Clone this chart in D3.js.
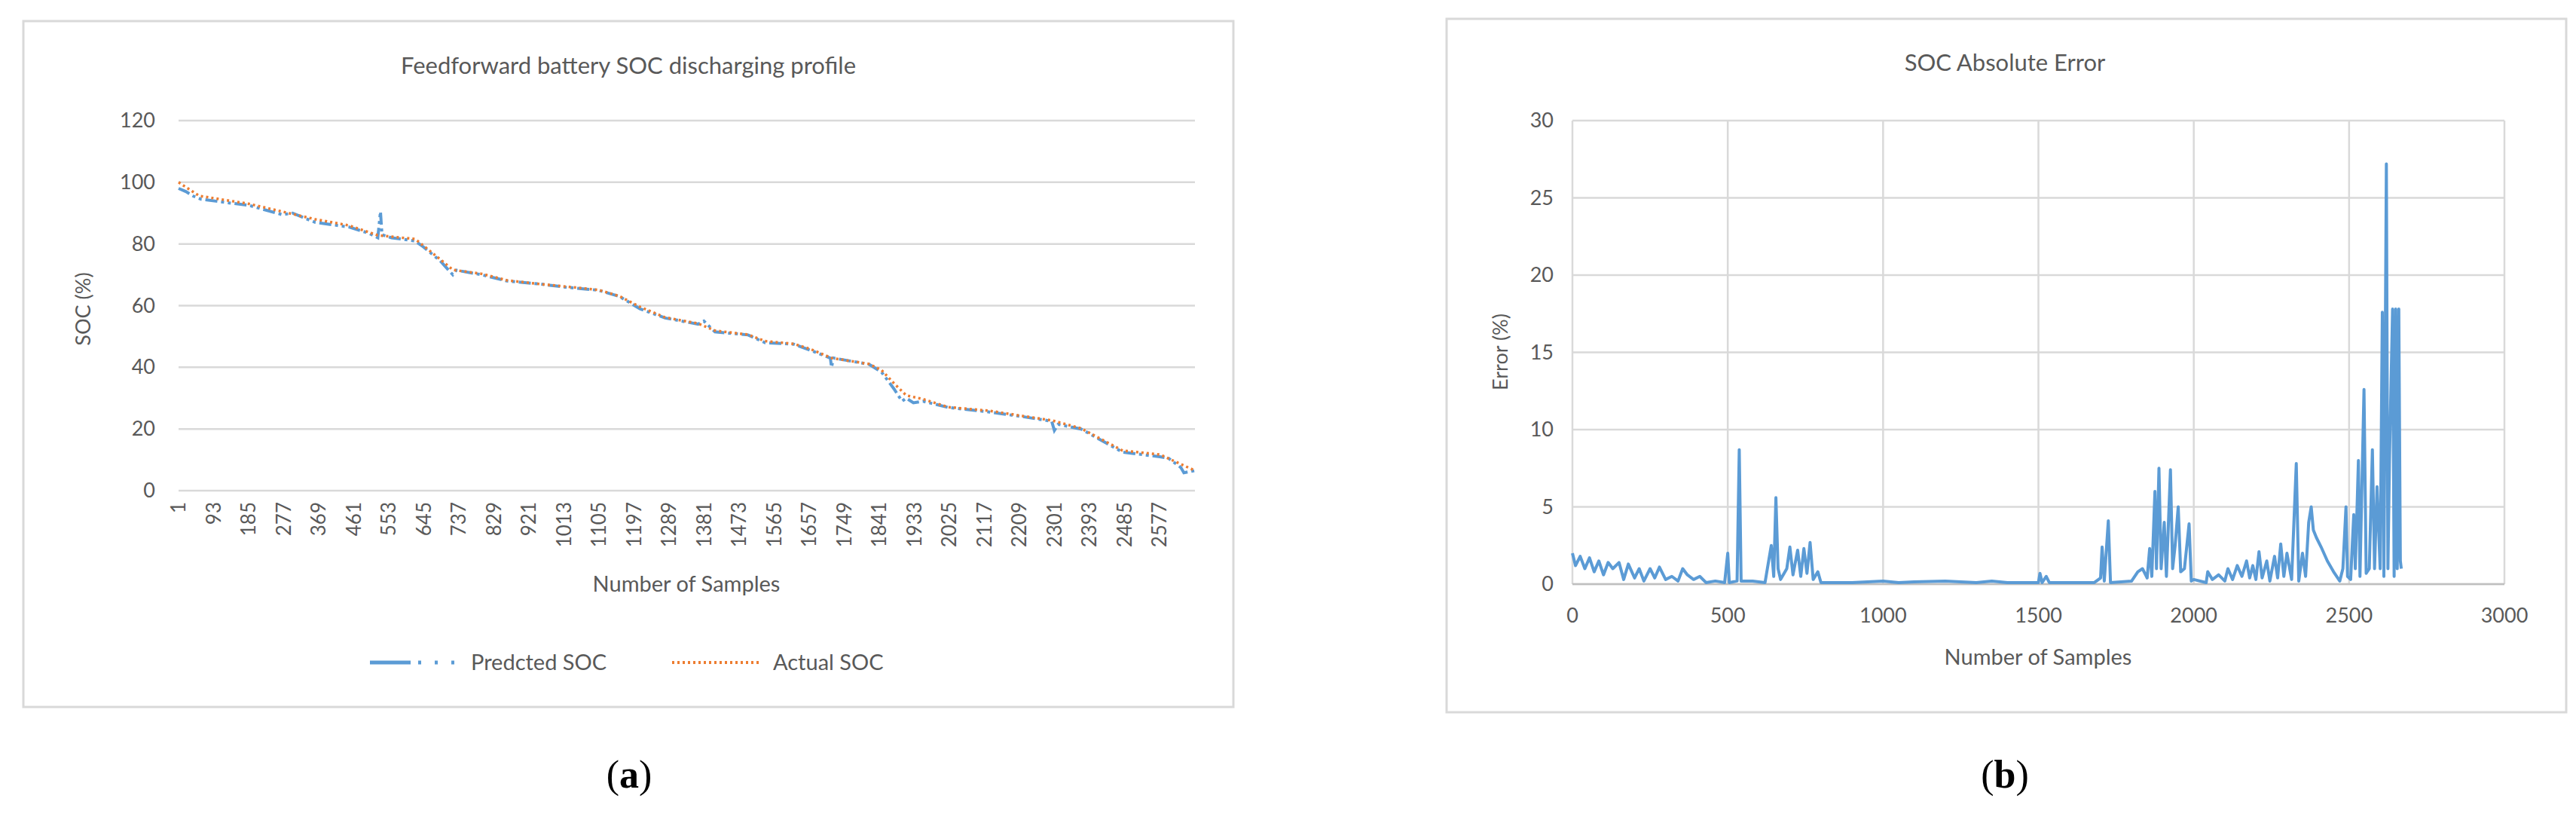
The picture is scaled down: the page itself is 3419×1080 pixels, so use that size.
<!DOCTYPE html>
<html><head><meta charset="utf-8">
<script src="https://cdn.jsdelivr.net/npm/d3@7/dist/d3.min.js"></script>
<style>body{margin:0;background:#fff}text{font-family:Lato,"Open Sans",sans-serif;fill:#595959}</style>
</head><body>
<svg id="c" width="3419" height="1080"></svg>
<script>
const socTicks=[1,93,185,277,369,461,553,645,737,829,921,1013,1105,1197,1289,1381,1473,1565,1657,1749,1841,1933,2025,2117,2209,2301,2393,2485,2577];
const socYTicks=[0,20,40,60,80,100,120];
const actualSamples=[1,55,186,273,360,448,524,622,644,688,721,797,863,950,1016,1103,1158,1212,1278,1365,1409,1496,1540,1616,1660,1715,1813,1846,1879,1911,1955,2021,2130,2217,2293,2370,2435,2479,2577,2632,2669];
const actualSOC=[100,95.6,93,90.5,88,86,82.8,81.6,79.4,75,71.6,70.3,68.2,67,66.2,65.1,63.1,59.6,56.2,54.2,51.9,50.6,48.5,47.6,45.9,43,41.1,39.1,34.8,30.9,29.7,27.1,25.9,24.2,22.8,20.2,15.9,13,11.7,8.6,6.5];
const predSamples=[1,20,40,60,186,273,300,360,448,500,524,531,535,560,622,644,688,721,730,797,863,950,1016,1103,1158,1212,1278,1365,1380,1409,1496,1540,1616,1660,1712,1715,1720,1813,1846,1879,1900,1911,1930,1955,2021,2130,2217,2293,2300,2310,2370,2435,2479,2577,2600,2632,2640,2669];
const predSOC=[98,97,95.5,94.5,92.5,89.5,90,87,85.5,83.5,82,90.5,83,82,81,79,74.5,70,71.5,70,68,67,66,65,63,59,56,54,55,51.5,50.5,48,47.5,45.5,43,40,43,41,38.5,33,29,30,28.5,29,27,25.5,24,22.5,19.5,21.5,20,15.5,12.5,11,10.5,7.5,5.8,6.5];
const errTicksX=[0,500,1000,1500,2000,2500,3000];
const errTicksY=[0,5,10,15,20,25,30];
const errSamples=[0,10,25,40,55,70,85,100,115,130,150,165,180,200,215,230,250,265,280,300,320,340,355,370,390,410,430,460,490,500,505,530,537,543,580,620,640,648,655,662,670,690,700,710,725,735,745,755,765,775,790,800,900,1000,1050,1100,1200,1300,1350,1400,1500,1505,1512,1525,1535,1680,1700,1705,1712,1725,1732,1800,1820,1835,1850,1858,1865,1875,1880,1888,1895,1905,1912,1925,1932,1940,1950,1958,1970,1985,1992,2000,2040,2045,2060,2080,2100,2110,2125,2140,2155,2170,2180,2190,2200,2210,2220,2235,2245,2260,2270,2280,2290,2300,2315,2330,2338,2350,2360,2370,2378,2385,2395,2410,2430,2450,2470,2480,2490,2495,2505,2515,2520,2530,2535,2548,2555,2565,2575,2582,2590,2600,2607,2612,2620,2625,2630,2640,2645,2650,2655,2660,2665,2668];
const errValues=[2,1.2,1.8,1,1.7,0.8,1.5,0.6,1.4,1,1.4,0.3,1.3,0.4,1,0.2,1,0.4,1.1,0.3,0.5,0.2,1,0.6,0.3,0.5,0.1,0.2,0.1,2,0.1,0.2,8.7,0.2,0.2,0.1,2.5,0.5,5.6,1,0.3,1,2.4,0.6,2.2,0.5,2.3,0.7,2.7,0.3,0.8,0.1,0.1,0.2,0.1,0.15,0.2,0.1,0.2,0.1,0.1,0.7,0.1,0.5,0.1,0.1,0.4,2.4,0.2,4.1,0.1,0.2,0.8,1,0.4,2.3,0.5,6,1,7.5,1,4,0.5,7.4,1,2.5,5,0.8,1,3.9,0.2,0.3,0.1,0.8,0.3,0.6,0.2,1,0.3,1.2,0.5,1.5,0.4,1.2,0.3,2.1,0.4,1.5,0.2,1.8,0.4,2.6,0.5,2,0.3,7.8,0.2,2,0.5,4,5,3.5,3,2.4,1.5,0.8,0.2,1,5,0.5,0.3,4.5,1,8,0.5,12.6,0.7,1,8.7,1,6.3,1,17.6,0.5,27.2,1,8,17.8,0.5,17.8,1,17.8,1.5,1];

const svg=d3.select("#c");
const blue="#5b9bd5", orange="#ed7d31", grid="#d9d9d9";
// ---- Panel (a)
svg.append("rect").attr("x",31).attr("y",28).attr("width",1606).attr("height",910).attr("fill","none").attr("stroke","#d9d9d9").attr("stroke-width",3);
const xa=d3.scaleLinear().domain([1,2669]).range([237,1586]);
const ya=d3.scaleLinear().domain([0,120]).range([651,160]);
const ga=svg.append("g");
socYTicks.forEach(t=>{
  ga.append("line").attr("x1",237).attr("x2",1586).attr("y1",ya(t)).attr("y2",ya(t)).attr("stroke",grid).attr("stroke-width",2.5);
  ga.append("text").attr("x",206).attr("y",ya(t)+9).attr("text-anchor","end").attr("font-size",27).text(t);
});
socTicks.forEach(t=>{
  ga.append("text").attr("transform",`translate(${xa(t)+9},666) rotate(-90)`).attr("text-anchor","end").attr("font-size",26).text(t);
});
const la=d3.line().x((d,i)=>xa(d[0])).y(d=>ya(d[1]));
ga.append("path").attr("d",la(predSamples.map((s,i)=>[s,predSOC[i]]))).attr("fill","none").attr("stroke",blue).attr("stroke-width",4).attr("stroke-dasharray","16,5,4,5,4,5");
ga.append("path").attr("d",la(actualSamples.map((s,i)=>[s,actualSOC[i]]))).attr("fill","none").attr("stroke",orange).attr("stroke-width",3.5).attr("stroke-dasharray","3,4");
ga.append("text").attr("x",834).attr("y",98).attr("text-anchor","middle").attr("font-size",31).text("Feedforward battery SOC discharging profile");
ga.append("text").attr("transform","translate(120,410) rotate(-90)").attr("text-anchor","middle").attr("font-size",27).text("SOC (%)");
ga.append("text").attr("x",911).attr("y",785).attr("text-anchor","middle").attr("font-size",29).text("Number of Samples");
ga.append("line").attr("x1",491).attr("x2",545).attr("y1",879).attr("y2",879).attr("stroke",blue).attr("stroke-width",5);
ga.append("line").attr("x1",555).attr("x2",605).attr("y1",879).attr("y2",879).attr("stroke",blue).attr("stroke-width",5).attr("stroke-dasharray","4,18");
ga.append("text").attr("x",625).attr("y",889).attr("font-size",29).text("Predcted SOC");
ga.append("line").attr("x1",892).attr("x2",1010).attr("y1",879).attr("y2",879).attr("stroke",orange).attr("stroke-width",4).attr("stroke-dasharray","3,4");
ga.append("text").attr("x",1026).attr("y",889).attr("font-size",29).text("Actual SOC");
// ---- Panel (b)
svg.append("rect").attr("x",1920).attr("y",25).attr("width",1486).attr("height",920).attr("fill","none").attr("stroke","#d9d9d9").attr("stroke-width",3);
const xb=d3.scaleLinear().domain([0,3000]).range([2087,3324]);
const yb=d3.scaleLinear().domain([0,30]).range([775,160]);
const gb=svg.append("g");
errTicksY.forEach(t=>{
  gb.append("line").attr("x1",2087).attr("x2",3324).attr("y1",yb(t)).attr("y2",yb(t)).attr("stroke",grid).attr("stroke-width",2.5);
  gb.append("text").attr("x",2062).attr("y",yb(t)+9).attr("text-anchor","end").attr("font-size",27).text(t);
});
errTicksX.forEach(t=>{
  gb.append("line").attr("x1",xb(t)).attr("x2",xb(t)).attr("y1",160).attr("y2",775).attr("stroke",grid).attr("stroke-width",2.5);
  gb.append("text").attr("x",xb(t)).attr("y",826).attr("text-anchor","middle").attr("font-size",27).text(t);
});
gb.append("line").attr("x1",2087).attr("x2",3324).attr("y1",775).attr("y2",775).attr("stroke","#bfbfbf").attr("stroke-width",2.5);
const lb=d3.line().x(d=>xb(d[0])).y(d=>yb(d[1]));
gb.append("path").attr("d",lb(errSamples.map((s,i)=>[s,errValues[i]]))).attr("fill","none").attr("stroke",blue).attr("stroke-width",4).attr("stroke-linejoin","round");
gb.append("text").attr("x",2661).attr("y",94).attr("text-anchor","middle").attr("font-size",31).text("SOC Absolute Error");
gb.append("text").attr("transform","translate(2001,467) rotate(-90)").attr("text-anchor","middle").attr("font-size",27).text("Error (%)");
gb.append("text").attr("x",2705).attr("y",882).attr("text-anchor","middle").attr("font-size",29).text("Number of Samples");
// captions
[["a",835],["b",2661]].forEach(([l,x])=>{
  const t=svg.append("text").attr("x",x).attr("y",1045).attr("text-anchor","middle").attr("font-size",52).style("font-family","'Liberation Serif',serif").style("fill","#000");
  t.append("tspan").text("(");t.append("tspan").attr("font-weight","bold").text(l);t.append("tspan").text(")");
});
</script>
</body></html>
